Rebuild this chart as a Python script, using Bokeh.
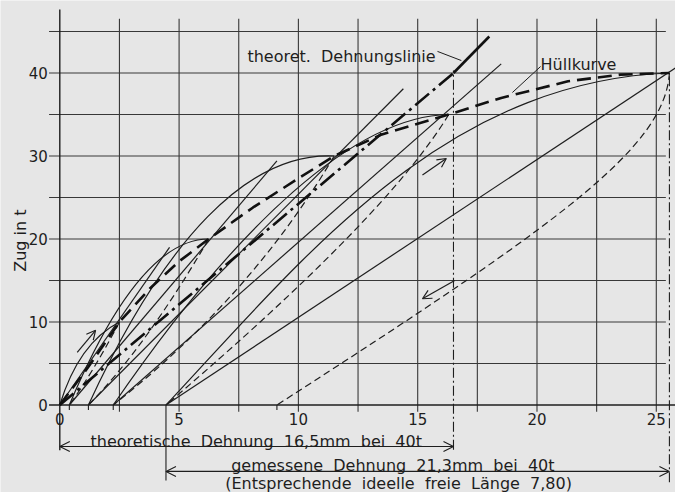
from math import pi
from bokeh.plotting import figure
from bokeh.models import Range1d, Arrow, OpenHead
from bokeh.core.properties import value
from bokeh.embed import file_html
from bokeh.resources import INLINE

# ---------------- data ----------------
x_tick_vals = [0, 5, 10, 15, 20, 25]
x_tick_labels = ["0", "5", "10", "15", "20", "25"]
y_tick_vals = [0, 10, 20, 30, 40]
y_tick_labels = ["0", "10", "20", "30", "40"]
x_grid_vals = [2.5, 5, 7.5, 10, 12.5, 15, 17.5, 20, 22.5, 25]
y_grid_vals = [5, 10, 15, 20, 25, 30, 35, 40, 45]

# points on the x axis where the loops start (residual elongation, mm)
start_x = [0.4, 1.2, 2.24, 9.1]

# loading curves (solid), cubic bezier: start, control 1, control 2, end
load_x0 = [0.0, 0.4, 1.2, 2.24, 4.45]
load_y0 = [0, 0, 0, 0, 0]
load_cx0 = [0.53, 2.33, 4.4, 7.5, 10.0]
load_cy0 = [5.0, 13.2, 20.0, 22.0, 17.0]
load_cx1 = [1.37, 4.3, 7.9, 12.4, 16.0]
load_cy1 = [8.33, 20.0, 30.5, 34.8, 39.0]
load_x1 = [2.5, 6.24, 11.5, 16.3, 25.55]
load_y1 = [10, 20, 30, 35, 40]

# unloading curves (dashed)
unl_x0 = [2.5, 6.24, 11.5, 16.3, 25.55]
unl_y0 = [10, 20, 30, 35, 40]
unl_cx0 = [1.77, 4.48, 9.17, 14.57, 25.35]
unl_cy0 = [6.0, 11.33, 18.67, 26.8, 31.0]
unl_cx1 = [1.07, 2.8, 6.08, 10.62, 21.0]
unl_cy1 = [2.67, 4.67, 8.67, 15.13, 22.0]
unl_x1 = [0.4, 1.2, 2.24, 4.45, 9.1]
unl_y1 = [0, 0, 0, 0, 0]

# straight secant lines through the peaks (thin solid)
sec_x0 = [0.0, 0.4, 1.2, 2.24, 4.45]
sec_y0 = [0, 0, 0, 0, 0]
sec_x1 = [4.6, 9.1, 14.4, 18.5, 25.9]
sec_y1 = [19.0, 29.4, 38.1, 41.1, 40.8]

# envelope curve "Hüllkurve"
hull_x = [0, 1.2, 2.5, 3.8, 5.0, 6.24, 8.1, 10.0, 11.5, 13.5, 16.3, 18.5, 21.3, 23.5, 25.55]
hull_y = [0, 4.6, 10, 14.1, 17.3, 20, 23.8, 27.3, 30, 32.6, 35, 37.0, 39.0, 39.8, 40.0]

# theoretical elongation line
theo_x = [0, 16.5]
theo_y = [0, 40]
theo_ext_x = [16.5, 18.0]
theo_ext_y = [40, 44.4]

# direction arrows
dir_x0 = [0.73, 15.2, 16.55]
dir_y0 = [6.35, 27.7, 15.0]
dir_x1 = [1.5, 16.2, 15.2]
dir_y1 = [9.0, 29.7, 12.8]

# dimension lines below the axis
dim_x0 = [0.0, 4.45]
dim_x1 = [16.5, 25.55]
dim_y = [-5.0, -8.0]

# ---------------- figure ----------------
INK = "#1e1e1e"
GRID = "#383838"
BG = "#e6e6e6"
FONT = value("DejaVu Sans")
NB = "\u00a0"

p = figure(width=675, height=492, x_range=Range1d(-2.485, 25.805), y_range=Range1d(-10.542, 48.735),
           x_axis_type=None, y_axis_type=None, output_backend="svg", toolbar_location=None,
           min_border=0, background_fill_color=BG, border_fill_color=BG, outline_line_color=None)
p.grid.visible = False

# grid
p.segment(x0=x_grid_vals, y0=[-0.8] * len(x_grid_vals), x1=x_grid_vals, y1=[46.55] * len(x_grid_vals),
          line_color=GRID, line_width=1.1)
p.segment(x0=[-0.45] * len(y_grid_vals), y0=y_grid_vals, x1=[25.4] * len(y_grid_vals), y1=y_grid_vals,
          line_color=GRID, line_width=1.1)
# axes
p.segment(x0=[-0.45], y0=[0], x1=[25.8], y1=[0], line_color=INK, line_width=1.4)
p.segment(x0=[0], y0=[-5.45], x1=[0], y1=[47.65], line_color=INK, line_width=1.4)
# small ticks at the loop starts
p.segment(x0=start_x, y0=[0] * len(start_x), x1=start_x, y1=[-0.6] * len(start_x), line_color=INK, line_width=1.1)
# reference verticals
p.segment(x0=[dim_x0[1]], y0=[0], x1=[dim_x0[1]], y1=[-9.1], line_color=INK, line_width=1.1)
p.segment(x0=[dim_x1[0]], y0=[-5.4], x1=[dim_x1[0]], y1=[40.3], line_color=INK, line_width=1.1,
          line_dash="10 3 2 3")
p.segment(x0=[dim_x1[1]], y0=[-9.3], x1=[dim_x1[1]], y1=[40.0], line_color=INK, line_width=1.1,
          line_dash="10 3 2 3")

# tick labels
p.text(x=x_tick_vals, y=[-1.65] * len(x_tick_vals), text=x_tick_labels, text_font=FONT,
       text_font_size="15px", text_align="center", text_baseline="middle", text_color=INK)
p.text(x=[-0.5] * len(y_tick_vals), y=y_tick_vals, text=y_tick_labels, text_font=FONT,
       text_font_size="15px", text_align="right", text_baseline="middle", text_color=INK)
p.text(x=[-1.65], y=[19.8], text=["Zug in t"], angle=pi / 2, text_font=FONT, text_font_size="16px",
       text_align="center", text_baseline="middle", text_color=INK)

# secant lines
p.segment(x0=sec_x0, y0=sec_y0, x1=sec_x1, y1=sec_y1, line_color=INK, line_width=1.2)
# loading curves
p.bezier(x0=load_x0, y0=load_y0, x1=load_x1, y1=load_y1, cx0=load_cx0, cy0=load_cy0,
         cx1=load_cx1, cy1=load_cy1, line_color=INK, line_width=1.2)
# unloading curves
p.bezier(x0=unl_x0, y0=unl_y0, x1=unl_x1, y1=unl_y1, cx0=unl_cx0, cy0=unl_cy0,
         cx1=unl_cx1, cy1=unl_cy1, line_color=INK, line_width=1.2, line_dash="7 4")
# envelope
p.line(hull_x, hull_y, line_color="#111111", line_width=2.6, line_dash="14 7")
# theoretical line
p.line(theo_x, theo_y, line_color="#111111", line_width=2.6, line_dash="18 5 3 5")
p.line(theo_ext_x, theo_ext_y, line_color="#111111", line_width=2.6)

# direction arrows
for i in range(len(dir_x0)):
    p.add_layout(Arrow(end=OpenHead(size=9, line_width=1.2, line_color=INK), x_start=dir_x0[i], y_start=dir_y0[i],
                       x_end=dir_x1[i], y_end=dir_y1[i], line_width=1.2, line_color=INK))
# dimension arrows
for i in range(len(dim_x0)):
    p.add_layout(Arrow(start=OpenHead(size=10, line_width=1.1, line_color=INK),
                       end=OpenHead(size=10, line_width=1.1, line_color=INK),
                       x_start=dim_x0[i], y_start=dim_y[i], x_end=dim_x1[i], y_end=dim_y[i],
                       line_width=1.1, line_color=INK))

# annotations
p.text(x=[1.29], y=[-4.35], text=[f"theoretische{NB} Dehnung{NB} 16,5mm{NB} bei{NB} 40t"], text_font=FONT,
       text_font_size="16px", text_align="left", text_baseline="alphabetic", text_color=INK)
p.text(x=[13.96], y=[-7.3], text=[f"gemessene{NB} Dehnung{NB} 21,3mm{NB} bei{NB} 40t"], text_font=FONT,
       text_font_size="16px", text_align="center", text_baseline="alphabetic", text_color=INK)
p.text(x=[14.2], y=[-9.5], text=[f"(Entsprechende{NB} ideelle{NB} freie{NB} Länge{NB} 7,80)"], text_font=FONT,
       text_font_size="16px", text_align="center", text_baseline="middle", text_color=INK)
p.text(x=[15.75], y=[42.0], text=[f"theoret.{NB} Dehnungslinie"], text_font=FONT,
       text_font_size="16px", text_align="right", text_baseline="alphabetic", text_color=INK)
p.text(x=[20.15], y=[41.0], text=["Hüllkurve"], text_font=FONT,
       text_font_size="16px", text_align="left", text_baseline="alphabetic", text_color=INK)
# leader lines
p.segment(x0=[15.83, 20.15], y0=[42.6, 40.78], x1=[16.83, 18.97], y1=[41.5, 37.65], line_color=INK, line_width=1.0)

open("out.html", "w").write(file_html(p, INLINE))
